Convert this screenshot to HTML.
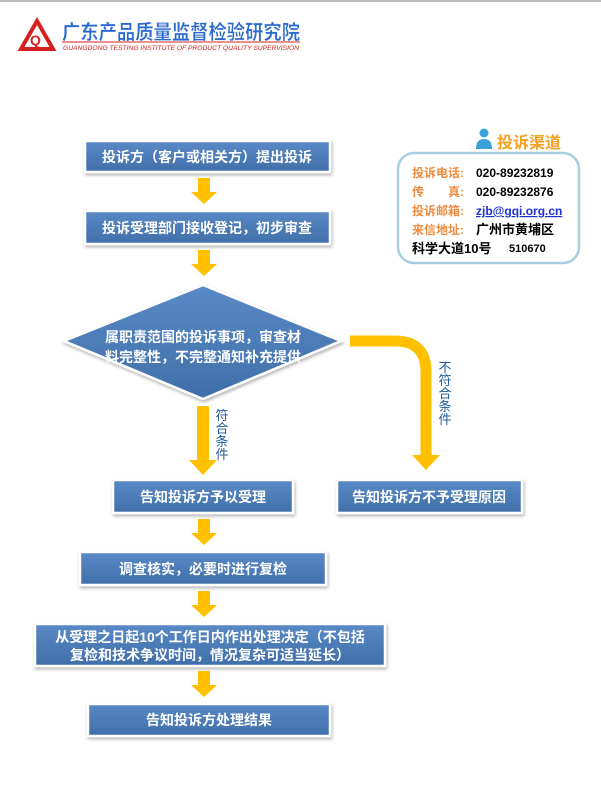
<!DOCTYPE html>
<html><head><meta charset="utf-8"><style>
body{margin:0;background:#fff;}
svg{display:block;}
.t{font-family:"Liberation Sans","Noto Sans CJK SC",sans-serif;font-weight:bold;fill:#fff;font-size:14px;}
</style></head><body>
<svg width="601" height="789" viewBox="0 0 601 789" xmlns="http://www.w3.org/2000/svg">
<defs>
<filter id="sh" x="-10%" y="-20%" width="120%" height="150%"><feDropShadow dx="1" dy="2" stdDeviation="1.5" flood-color="#000" flood-opacity="0.3"/></filter>
<linearGradient id="bg" x1="0" y1="0" x2="0" y2="1"><stop offset="0" stop-color="#5a8ac6"/><stop offset="1" stop-color="#3f6ea8"/></linearGradient>
</defs>
<line x1="0" y1="1" x2="601" y2="1" stroke="#bbb" stroke-width="2"/>
<!-- logo -->
<path d="M37 21 L53 49 L21 49 Z" fill="none" stroke="#d42020" stroke-width="4"/>
<text x="30" y="45" font-family="Liberation Sans" font-weight="bold" font-size="14" fill="#d42020">Q</text>
<text x="62" y="39" font-family="Liberation Sans,Noto Sans CJK SC,sans-serif" font-weight="bold" font-size="20" fill="#2a6ad0" stroke="#fff" stroke-width="0.3" textLength="238" lengthAdjust="spacingAndGlyphs">广东产品质量监督检验研究院</text>
<line x1="62" y1="42" x2="300" y2="42" stroke="#d42020" stroke-width="1"/>
<text x="63" y="50" font-family="Liberation Sans" font-style="italic" font-size="6" fill="#d42020" textLength="236" lengthAdjust="spacingAndGlyphs">GUANGDONG TESTING INSTITUTE OF PRODUCT QUALITY SUPERVISION</text>

<g filter="url(#sh)" stroke="#fff" stroke-width="2.5" fill="url(#bg)">
<rect x="85" y="141" width="245" height="31"/>
<rect x="85" y="211" width="245" height="33"/>
<polygon points="64,341 203,285 341,341 203,399"/>
<rect x="113" y="480" width="180" height="33"/>
<rect x="337" y="480" width="185" height="33"/>
<rect x="80" y="552" width="246" height="33"/>
<rect x="35" y="624" width="350" height="42"/>
<rect x="88" y="704" width="242" height="32"/>
</g>
<g class="t" text-anchor="middle">
<text x="207" y="162">投诉方（客户或相关方）提出投诉</text>
<text x="207" y="233">投诉受理部门接收登记，初步审查</text>
<text x="203" y="342">属职责范围的投诉事项，审查材</text>
<text x="203" y="362">料完整性，不完整通知补充提供</text>
<text x="203" y="502">告知投诉方予以受理</text>
<text x="429" y="502">告知投诉方不予受理原因</text>
<text x="203" y="574">调查核实，必要时进行复检</text>
<text x="210" y="642">从受理之日起10个工作日内作出处理决定（不包括</text>
<text x="210" y="660">复检和技术争议时间，情况复杂可适当延长）</text>
<text x="209" y="725">告知投诉方处理结果</text>
</g>
<!-- arrows -->
<g fill="#ffc000">
<path d="M198 178h12v14h7l-13 12-13-12h7z"/>
<path d="M198 250h12v14h7l-13 12-13-12h7z"/>
<path d="M197 406h12v54h8l-14 15-14-15h8z"/>
<path d="M198 519h12v14h7l-13 12-13-12h7z"/>
<path d="M198 591h12v14h7l-13 12-13-12h7z"/>
<path d="M198 671h12v14h7l-13 12-13-12h7z"/>
<path d="M420 455h-8l14 15 14-15h-8z"/>
</g>
<path d="M350 341 H395 Q426 341 426 372 V457" fill="none" stroke="#ffc000" stroke-width="11"/>
<g font-family="Liberation Sans,Noto Sans CJK SC,sans-serif" font-size="13" fill="#1f5a9c" text-anchor="middle">
<text x="222" y="420">符</text><text x="222" y="433">合</text><text x="222" y="446">条</text><text x="222" y="459">件</text>
<text x="445" y="372">不</text><text x="445" y="385">符</text><text x="445" y="398">合</text><text x="445" y="411">条</text><text x="445" y="424">件</text>
</g>
<!-- contact -->
<circle cx="484" cy="133" r="4.5" fill="#3ba0d8"/>
<path d="M476 149 q0-10 8-10 q8 0 8 10z" fill="#3ba0d8"/>
<text x="497" y="148" font-family="Liberation Sans,Noto Sans CJK SC,sans-serif" font-weight="bold" font-size="16" fill="#f5a020">投诉渠道</text>
<rect x="398" y="153" width="181" height="110" rx="16" fill="#fff" stroke="#a8cfe0" stroke-width="2.5"/>
<g font-family="Liberation Sans,Noto Sans CJK SC,sans-serif" font-weight="bold" font-size="12">
<text x="412" y="177" fill="#f08c40">投诉电话:</text><text x="476" y="177" fill="#000">020-89232819</text>
<text x="412" y="196" fill="#f08c40">传　　真:</text><text x="476" y="196" fill="#000">020-89232876</text>
<text x="412" y="215" fill="#f08c40">投诉邮箱:</text><text x="476" y="215" fill="#1a30d0" text-decoration="underline">zjb@gqi.org.cn</text>
<text x="412" y="234" fill="#f08c40">来信地址:</text><text x="476" y="234" fill="#000" font-size="13">广州市黄埔区</text>
<text x="412" y="253" fill="#000" font-size="13">科学大道10号</text><text x="509" y="252" fill="#000" font-size="11">510670</text>
</g>
</svg>
</body></html>
